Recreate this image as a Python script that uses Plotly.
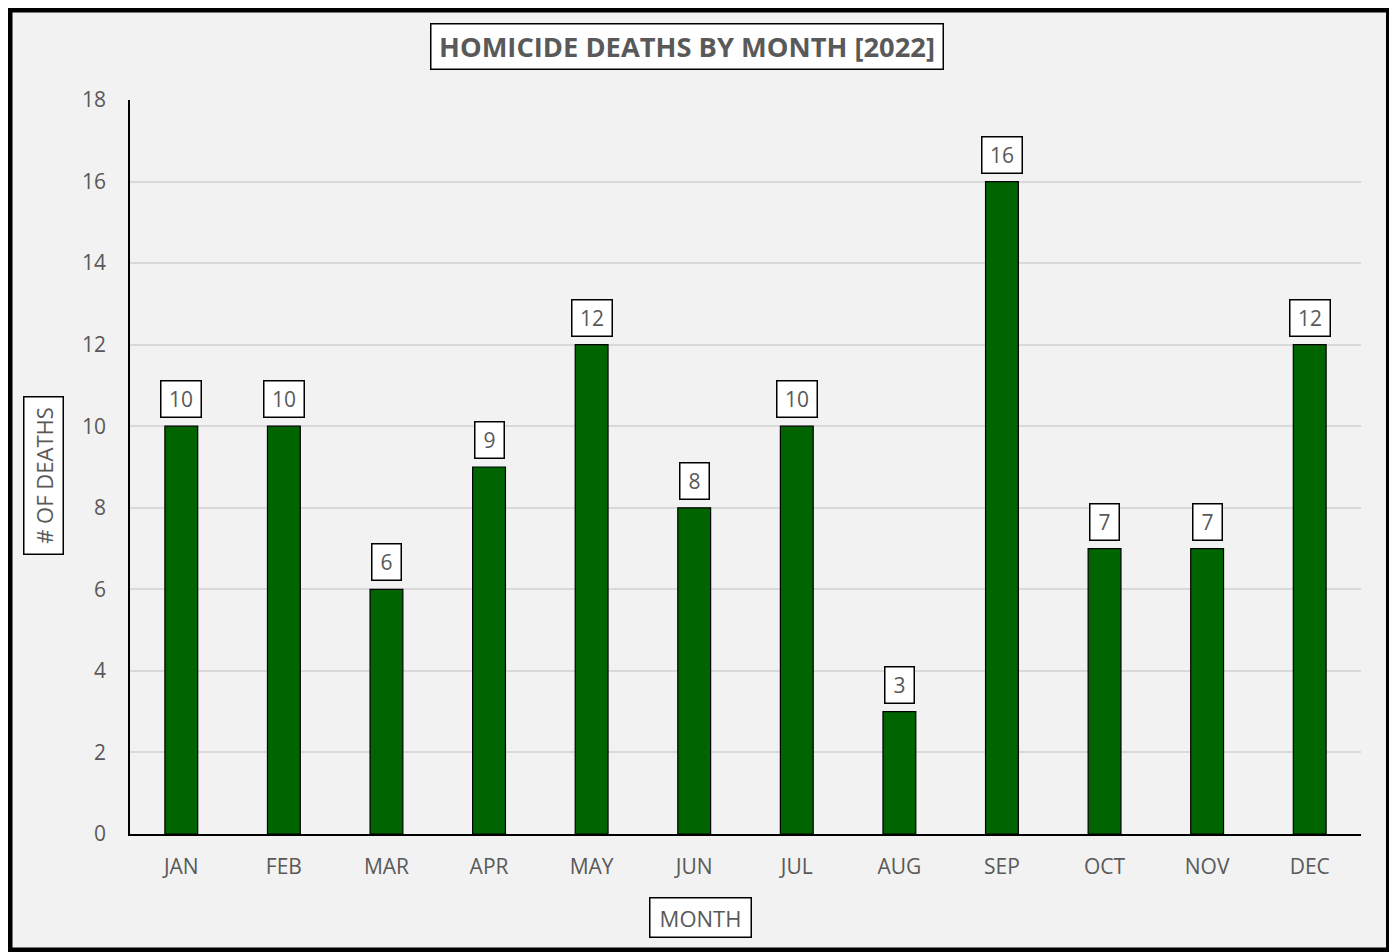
import plotly.graph_objects as go

months = ["JAN", "FEB", "MAR", "APR", "MAY", "JUN", "JUL", "AUG", "SEP", "OCT", "NOV", "DEC"]
deaths = [10, 10, 6, 9, 12, 8, 10, 3, 16, 7, 7, 12]
y_ticks = [0, 2, 4, 6, 8, 10, 12, 14, 16, 18]

# page body has an 8px margin; design in window pixels and convert
OFF = 8
W, H = 1389, 944
ML, MT = 130 - OFF, 100 - OFF
MR = W - (1361 - OFF)
MB = H - (834 - OFF)
PW, PH = W - ML - MR, H - MT - MB

def px_x(px):
    return (px - OFF - ML) / PW

def px_y(py):
    return (H - MB - (py - OFF)) / PH

FONT = "Open Sans"
TXT = "#595959"

fig = go.Figure()
fig.add_trace(go.Bar(
    x=months, y=deaths,
    marker=dict(color="#006400", line=dict(color="black", width=1.2)),
    hoverinfo="x+y",
))

annotations = []
for m, v in zip(months, deaths):
    s = str(v)
    annotations.append(dict(
        x=m, y=v, xref="x", yref="y", text=s, showarrow=False,
        yanchor="bottom", yshift=8,
        width=11 * len(s) + 9, height=27,
        font=dict(family=FONT, size=21, color=TXT),
        bgcolor="white", bordercolor="black", borderwidth=1.5, borderpad=4,
    ))

# Title
annotations.append(dict(
    x=px_x(687), y=px_y(46.5), xref="paper", yref="paper",
    text="<b>HOMICIDE DEATHS BY MONTH [2022]</b>", showarrow=False,
    xanchor="center", yanchor="middle", width=503, height=36,
    font=dict(family=FONT, size=27.3, color=TXT),
    bgcolor="white", bordercolor="black", borderwidth=1.5, borderpad=4,
))
# Y axis title
annotations.append(dict(
    x=px_x(43.5), y=px_y(475.5), xref="paper", yref="paper",
    text="# OF DEATHS", textangle=-90, showarrow=False,
    xanchor="center", yanchor="middle", width=148, height=30,
    font=dict(family=FONT, size=22, color=TXT),
    bgcolor="white", bordercolor="black", borderwidth=1.5, borderpad=4,
))
# X axis title
annotations.append(dict(
    x=px_x(700.5), y=px_y(917.5), xref="paper", yref="paper",
    text="MONTH", showarrow=False,
    xanchor="center", yanchor="middle", width=92, height=30,
    font=dict(family=FONT, size=22, color=TXT),
    bgcolor="white", bordercolor="black", borderwidth=1.5, borderpad=4,
))

shapes = [dict(
    type="rect", xref="paper", yref="paper",
    x0=px_x(10), x1=px_x(1388.5), y0=px_y(950), y1=px_y(10),
    fillcolor="#f2f2f2", line=dict(color="black", width=5), layer="below",
)]

fig.update_layout(
    width=W, height=H,
    margin=dict(l=ML, r=MR, t=MT, b=MB, autoexpand=False),
    paper_bgcolor="#bfbfbf",
    plot_bgcolor="rgba(0,0,0,0)",
    bargap=0.68,
    showlegend=False,
    annotations=annotations,
    shapes=shapes,
    xaxis=dict(
        showline=True, linecolor="black", linewidth=1.5,
        showgrid=False, ticks="",
        tickfont=dict(family=FONT, size=21, color=TXT),
        ticklabelstandoff=13,
    ),
    yaxis=dict(
        range=[0, 18], tickvals=y_ticks,
        showline=True, linecolor="black", linewidth=1.5,
        showgrid=True, gridcolor="#d9d9d9", gridwidth=2,
        zeroline=False, ticks="",
        tickfont=dict(family=FONT, size=21, color=TXT),
        ticklabelstandoff=18,
    ),
)

fig.write_html("out.html")
